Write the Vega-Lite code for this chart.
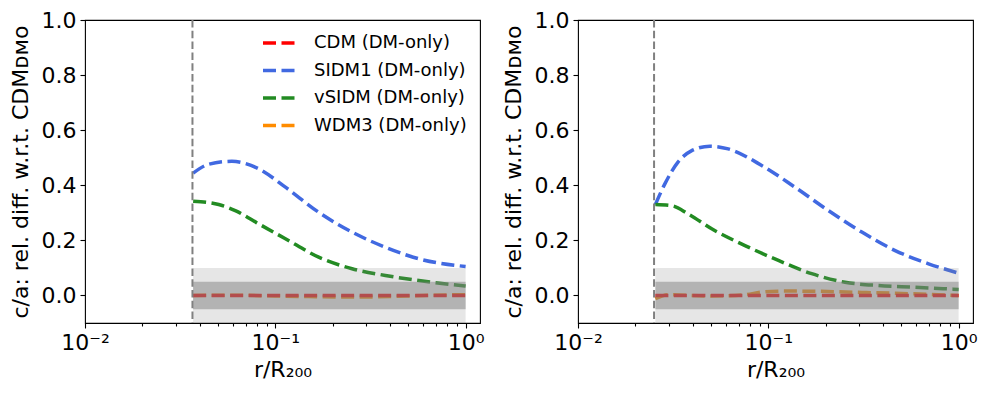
{
  "$schema": "https://vega.github.io/schema/vega-lite/v6.json",
  "background": "white",
  "padding": {"left": 8, "top": 8, "right": 5, "bottom": 5},
  "config": {
    "font": "DejaVu Sans",
    "view": {"stroke": "black", "strokeWidth": 1.1},
    "axis": {"grid": false, "domain": false, "tickColor": "black", "tickWidth": 1.1, "tickSize": 5, "labelFont": "DejaVu Sans", "labelFontSize": 22, "labelColor": "black", "titleFont": "DejaVu Sans", "titleFontSize": 22, "titleColor": "black", "titleFontWeight": "normal"},
    "legend": {"labelFont": "DejaVu Sans", "labelFontSize": 18, "labelColor": "black"}
  },
  "datasets": {
    "lines": [
      {"p": "L", "m": "WDM3 (DM-only)", "x": 0.037, "y": 0.0},
      {"p": "L", "m": "WDM3 (DM-only)", "x": 0.06, "y": 0.001},
      {"p": "L", "m": "WDM3 (DM-only)", "x": 0.1, "y": -0.002},
      {"p": "L", "m": "WDM3 (DM-only)", "x": 0.15, "y": -0.004},
      {"p": "L", "m": "WDM3 (DM-only)", "x": 0.25, "y": -0.006},
      {"p": "L", "m": "WDM3 (DM-only)", "x": 0.4, "y": -0.004},
      {"p": "L", "m": "WDM3 (DM-only)", "x": 0.6, "y": 0.0},
      {"p": "L", "m": "WDM3 (DM-only)", "x": 1.0, "y": 0.003},
      {"p": "L", "m": "CDM (DM-only)", "x": 0.037, "y": 0.0},
      {"p": "L", "m": "CDM (DM-only)", "x": 0.1, "y": 0.0},
      {"p": "L", "m": "CDM (DM-only)", "x": 0.3, "y": 0.0},
      {"p": "L", "m": "CDM (DM-only)", "x": 1.0, "y": 0.0},
      {"p": "L", "m": "SIDM1 (DM-only)", "x": 0.037, "y": 0.444},
      {"p": "L", "m": "SIDM1 (DM-only)", "x": 0.0446, "y": 0.476},
      {"p": "L", "m": "SIDM1 (DM-only)", "x": 0.0591, "y": 0.487},
      {"p": "L", "m": "SIDM1 (DM-only)", "x": 0.0817, "y": 0.46},
      {"p": "L", "m": "SIDM1 (DM-only)", "x": 0.113, "y": 0.393},
      {"p": "L", "m": "SIDM1 (DM-only)", "x": 0.169, "y": 0.302},
      {"p": "L", "m": "SIDM1 (DM-only)", "x": 0.253, "y": 0.23},
      {"p": "L", "m": "SIDM1 (DM-only)", "x": 0.379, "y": 0.175},
      {"p": "L", "m": "SIDM1 (DM-only)", "x": 0.568, "y": 0.133},
      {"p": "L", "m": "SIDM1 (DM-only)", "x": 1.0, "y": 0.105},
      {"p": "L", "m": "vSIDM (DM-only)", "x": 0.037, "y": 0.342},
      {"p": "L", "m": "vSIDM (DM-only)", "x": 0.0504, "y": 0.33},
      {"p": "L", "m": "vSIDM (DM-only)", "x": 0.0616, "y": 0.308},
      {"p": "L", "m": "vSIDM (DM-only)", "x": 0.0817, "y": 0.26},
      {"p": "L", "m": "vSIDM (DM-only)", "x": 0.113, "y": 0.206},
      {"p": "L", "m": "vSIDM (DM-only)", "x": 0.169, "y": 0.139},
      {"p": "L", "m": "vSIDM (DM-only)", "x": 0.253, "y": 0.097},
      {"p": "L", "m": "vSIDM (DM-only)", "x": 0.379, "y": 0.0725},
      {"p": "L", "m": "vSIDM (DM-only)", "x": 0.568, "y": 0.054},
      {"p": "L", "m": "vSIDM (DM-only)", "x": 1.0, "y": 0.034},
      {"p": "R", "m": "WDM3 (DM-only)", "x": 0.0255, "y": -0.012},
      {"p": "R", "m": "WDM3 (DM-only)", "x": 0.0298, "y": 0.003},
      {"p": "R", "m": "WDM3 (DM-only)", "x": 0.0504, "y": -0.002},
      {"p": "R", "m": "WDM3 (DM-only)", "x": 0.0754, "y": 0.003},
      {"p": "R", "m": "WDM3 (DM-only)", "x": 0.0923, "y": 0.012},
      {"p": "R", "m": "WDM3 (DM-only)", "x": 0.122, "y": 0.016},
      {"p": "R", "m": "WDM3 (DM-only)", "x": 0.183, "y": 0.015},
      {"p": "R", "m": "WDM3 (DM-only)", "x": 0.31, "y": 0.011},
      {"p": "R", "m": "WDM3 (DM-only)", "x": 0.464, "y": 0.008},
      {"p": "R", "m": "WDM3 (DM-only)", "x": 1.0, "y": 0.0},
      {"p": "R", "m": "CDM (DM-only)", "x": 0.0255, "y": 0.0},
      {"p": "R", "m": "CDM (DM-only)", "x": 0.1, "y": 0.0},
      {"p": "R", "m": "CDM (DM-only)", "x": 0.3, "y": 0.0},
      {"p": "R", "m": "CDM (DM-only)", "x": 1.0, "y": 0.0},
      {"p": "R", "m": "SIDM1 (DM-only)", "x": 0.0255, "y": 0.33},
      {"p": "R", "m": "SIDM1 (DM-only)", "x": 0.0286, "y": 0.405},
      {"p": "R", "m": "SIDM1 (DM-only)", "x": 0.0336, "y": 0.485},
      {"p": "R", "m": "SIDM1 (DM-only)", "x": 0.0394, "y": 0.525},
      {"p": "R", "m": "SIDM1 (DM-only)", "x": 0.0493, "y": 0.542},
      {"p": "R", "m": "SIDM1 (DM-only)", "x": 0.0616, "y": 0.532},
      {"p": "R", "m": "SIDM1 (DM-only)", "x": 0.0923, "y": 0.472},
      {"p": "R", "m": "SIDM1 (DM-only)", "x": 0.138, "y": 0.393},
      {"p": "R", "m": "SIDM1 (DM-only)", "x": 0.207, "y": 0.308},
      {"p": "R", "m": "SIDM1 (DM-only)", "x": 0.31, "y": 0.23},
      {"p": "R", "m": "SIDM1 (DM-only)", "x": 0.464, "y": 0.163},
      {"p": "R", "m": "SIDM1 (DM-only)", "x": 0.695, "y": 0.115},
      {"p": "R", "m": "SIDM1 (DM-only)", "x": 1.0, "y": 0.081},
      {"p": "R", "m": "vSIDM (DM-only)", "x": 0.0255, "y": 0.33},
      {"p": "R", "m": "vSIDM (DM-only)", "x": 0.031, "y": 0.326},
      {"p": "R", "m": "vSIDM (DM-only)", "x": 0.0379, "y": 0.296},
      {"p": "R", "m": "vSIDM (DM-only)", "x": 0.0504, "y": 0.242},
      {"p": "R", "m": "vSIDM (DM-only)", "x": 0.0754, "y": 0.181},
      {"p": "R", "m": "vSIDM (DM-only)", "x": 0.113, "y": 0.127},
      {"p": "R", "m": "vSIDM (DM-only)", "x": 0.169, "y": 0.079},
      {"p": "R", "m": "vSIDM (DM-only)", "x": 0.253, "y": 0.048},
      {"p": "R", "m": "vSIDM (DM-only)", "x": 0.379, "y": 0.036},
      {"p": "R", "m": "vSIDM (DM-only)", "x": 0.568, "y": 0.03},
      {"p": "R", "m": "vSIDM (DM-only)", "x": 1.0, "y": 0.022}
    ],
    "bands": [
      {"p": "L", "b": "outer", "x0": 0.037, "x1": 1.0, "y0": -0.1, "y1": 0.1},
      {"p": "L", "b": "inner", "x0": 0.037, "x1": 1.0, "y0": -0.05, "y1": 0.05},
      {"p": "R", "b": "outer", "x0": 0.0255, "x1": 1.0, "y0": -0.1, "y1": 0.1},
      {"p": "R", "b": "inner", "x0": 0.0255, "x1": 1.0, "y0": -0.05, "y1": 0.05}
    ],
    "vlines": [
      {"p": "L", "x": 0.0367},
      {"p": "R", "x": 0.0251}
    ]
  },
  "spacing": 16,
  "resolve": {"legend": {"color": "independent"}},
  "hconcat": [
    {
      "width": 395,
      "height": 303,
      "resolve": {"axis": {"x": "independent"}},
      "layer": [
        {
          "data": {"name": "lines"},
          "transform": [{"filter": "datum.p === 'L'"}],
          "mark": {"type": "line", "strokeWidth": 3.5, "strokeDash": [13, 5.5], "interpolate": "monotone"},
          "encoding": {
            "x": {"field": "x", "type": "quantitative", "scale": {"type": "log", "domain": [0.01, 1.19], "nice": false},
                  "axis": {"orient": "bottom", "title": "r/R₂₀₀", "values": [0.01, 0.1, 1], "labelExpr": "datum.value < 0.05 ? '10⁻²' : datum.value < 0.5 ? '10⁻¹' : '10⁰'", "labelFlush": false, "labelOverlap": false, "labelPadding": 4, "titlePadding": 6}},
            "y": {"field": "y", "type": "quantitative", "scale": {"domain": [-0.1, 1.0], "nice": false, "zero": false},
                  "axis": {"title": "c/a: rel. diff. w.r.t. CDMᴅᴍᴏ", "values": [0, 0.2, 0.4, 0.6, 0.8, 1.0], "format": ".1f", "labelPadding": 4, "titlePadding": 9}},
            "color": {"field": "m", "type": "nominal",
                      "scale": {"domain": ["CDM (DM-only)", "SIDM1 (DM-only)", "vSIDM (DM-only)", "WDM3 (DM-only)"], "range": ["#ff0000", "#4169e1", "#228b22", "#ff8c00"]},
                      "legend": {"title": null, "orient": "none", "legendX": 176, "legendY": 5, "padding": 0, "symbolType": "stroke", "symbolSize": 1024, "symbolStrokeWidth": 3.5, "symbolDash": [13, 5.5], "labelOffset": 17, "rowPadding": 0.5}}
          }
        },
        {
          "data": {"name": "bands"},
          "transform": [{"filter": "datum.p === 'L' && datum.b === 'outer'"}],
          "mark": {"type": "rect", "color": "gray", "opacity": 0.2},
          "encoding": {
            "x": {"field": "x0", "type": "quantitative", "axis": null},
            "x2": {"field": "x1"},
            "y": {"field": "y0", "type": "quantitative", "axis": {"title": "c/a: rel. diff. w.r.t. CDMᴅᴍᴏ", "values": [0, 0.2, 0.4, 0.6, 0.8, 1.0], "format": ".1f", "labelPadding": 4, "titlePadding": 9}},
            "y2": {"field": "y1"}
          }
        },
        {
          "data": {"name": "bands"},
          "transform": [{"filter": "datum.p === 'L' && datum.b === 'inner'"}],
          "mark": {"type": "rect", "color": "gray", "opacity": 0.5},
          "encoding": {
            "x": {"field": "x0", "type": "quantitative", "axis": null},
            "x2": {"field": "x1"},
            "y": {"field": "y0", "type": "quantitative", "axis": {"title": "c/a: rel. diff. w.r.t. CDMᴅᴍᴏ", "values": [0, 0.2, 0.4, 0.6, 0.8, 1.0], "format": ".1f", "labelPadding": 4, "titlePadding": 9}},
            "y2": {"field": "y1"}
          }
        },
        {
          "data": {"name": "vlines"},
          "transform": [{"filter": "datum.p === 'L'"}],
          "mark": {"type": "rule", "color": "gray", "strokeWidth": 2, "strokeDash": [7.5, 3.3]},
          "encoding": {
            "x": {"field": "x", "type": "quantitative",
                  "axis": {"orient": "bottom", "title": null, "labels": false, "tickSize": 3, "values": [0.02, 0.03, 0.04, 0.05, 0.06, 0.07, 0.08, 0.09, 0.2, 0.3, 0.4, 0.5, 0.6, 0.7, 0.8, 0.9]}}
          }
        }
      ]
    },
    {
      "width": 395,
      "height": 303,
      "resolve": {"axis": {"x": "independent"}},
      "layer": [
        {
          "data": {"name": "lines"},
          "transform": [{"filter": "datum.p === 'R'"}],
          "mark": {"type": "line", "strokeWidth": 3.5, "strokeDash": [13, 5.5], "interpolate": "monotone"},
          "encoding": {
            "x": {"field": "x", "type": "quantitative", "scale": {"type": "log", "domain": [0.01, 1.19], "nice": false},
                  "axis": {"orient": "bottom", "title": "r/R₂₀₀", "values": [0.01, 0.1, 1], "labelExpr": "datum.value < 0.05 ? '10⁻²' : datum.value < 0.5 ? '10⁻¹' : '10⁰'", "labelFlush": false, "labelOverlap": false, "labelPadding": 4, "titlePadding": 6}},
            "y": {"field": "y", "type": "quantitative", "scale": {"domain": [-0.1, 1.0], "nice": false, "zero": false},
                  "axis": {"title": "c/a: rel. diff. w.r.t. CDMᴅᴍᴏ", "values": [0, 0.2, 0.4, 0.6, 0.8, 1.0], "format": ".1f", "labelPadding": 4, "titlePadding": 9}},
            "color": {"field": "m", "type": "nominal",
                      "scale": {"domain": ["CDM (DM-only)", "SIDM1 (DM-only)", "vSIDM (DM-only)", "WDM3 (DM-only)"], "range": ["#ff0000", "#4169e1", "#228b22", "#ff8c00"]},
                      "legend": null}
          }
        },
        {
          "data": {"name": "bands"},
          "transform": [{"filter": "datum.p === 'R' && datum.b === 'outer'"}],
          "mark": {"type": "rect", "color": "gray", "opacity": 0.2},
          "encoding": {
            "x": {"field": "x0", "type": "quantitative", "axis": null},
            "x2": {"field": "x1"},
            "y": {"field": "y0", "type": "quantitative", "axis": {"title": "c/a: rel. diff. w.r.t. CDMᴅᴍᴏ", "values": [0, 0.2, 0.4, 0.6, 0.8, 1.0], "format": ".1f", "labelPadding": 4, "titlePadding": 9}},
            "y2": {"field": "y1"}
          }
        },
        {
          "data": {"name": "bands"},
          "transform": [{"filter": "datum.p === 'R' && datum.b === 'inner'"}],
          "mark": {"type": "rect", "color": "gray", "opacity": 0.5},
          "encoding": {
            "x": {"field": "x0", "type": "quantitative", "axis": null},
            "x2": {"field": "x1"},
            "y": {"field": "y0", "type": "quantitative", "axis": {"title": "c/a: rel. diff. w.r.t. CDMᴅᴍᴏ", "values": [0, 0.2, 0.4, 0.6, 0.8, 1.0], "format": ".1f", "labelPadding": 4, "titlePadding": 9}},
            "y2": {"field": "y1"}
          }
        },
        {
          "data": {"name": "vlines"},
          "transform": [{"filter": "datum.p === 'R'"}],
          "mark": {"type": "rule", "color": "gray", "strokeWidth": 2, "strokeDash": [7.5, 3.3]},
          "encoding": {
            "x": {"field": "x", "type": "quantitative",
                  "axis": {"orient": "bottom", "title": null, "labels": false, "tickSize": 3, "values": [0.02, 0.03, 0.04, 0.05, 0.06, 0.07, 0.08, 0.09, 0.2, 0.3, 0.4, 0.5, 0.6, 0.7, 0.8, 0.9]}}
          }
        }
      ]
    }
  ]
}
